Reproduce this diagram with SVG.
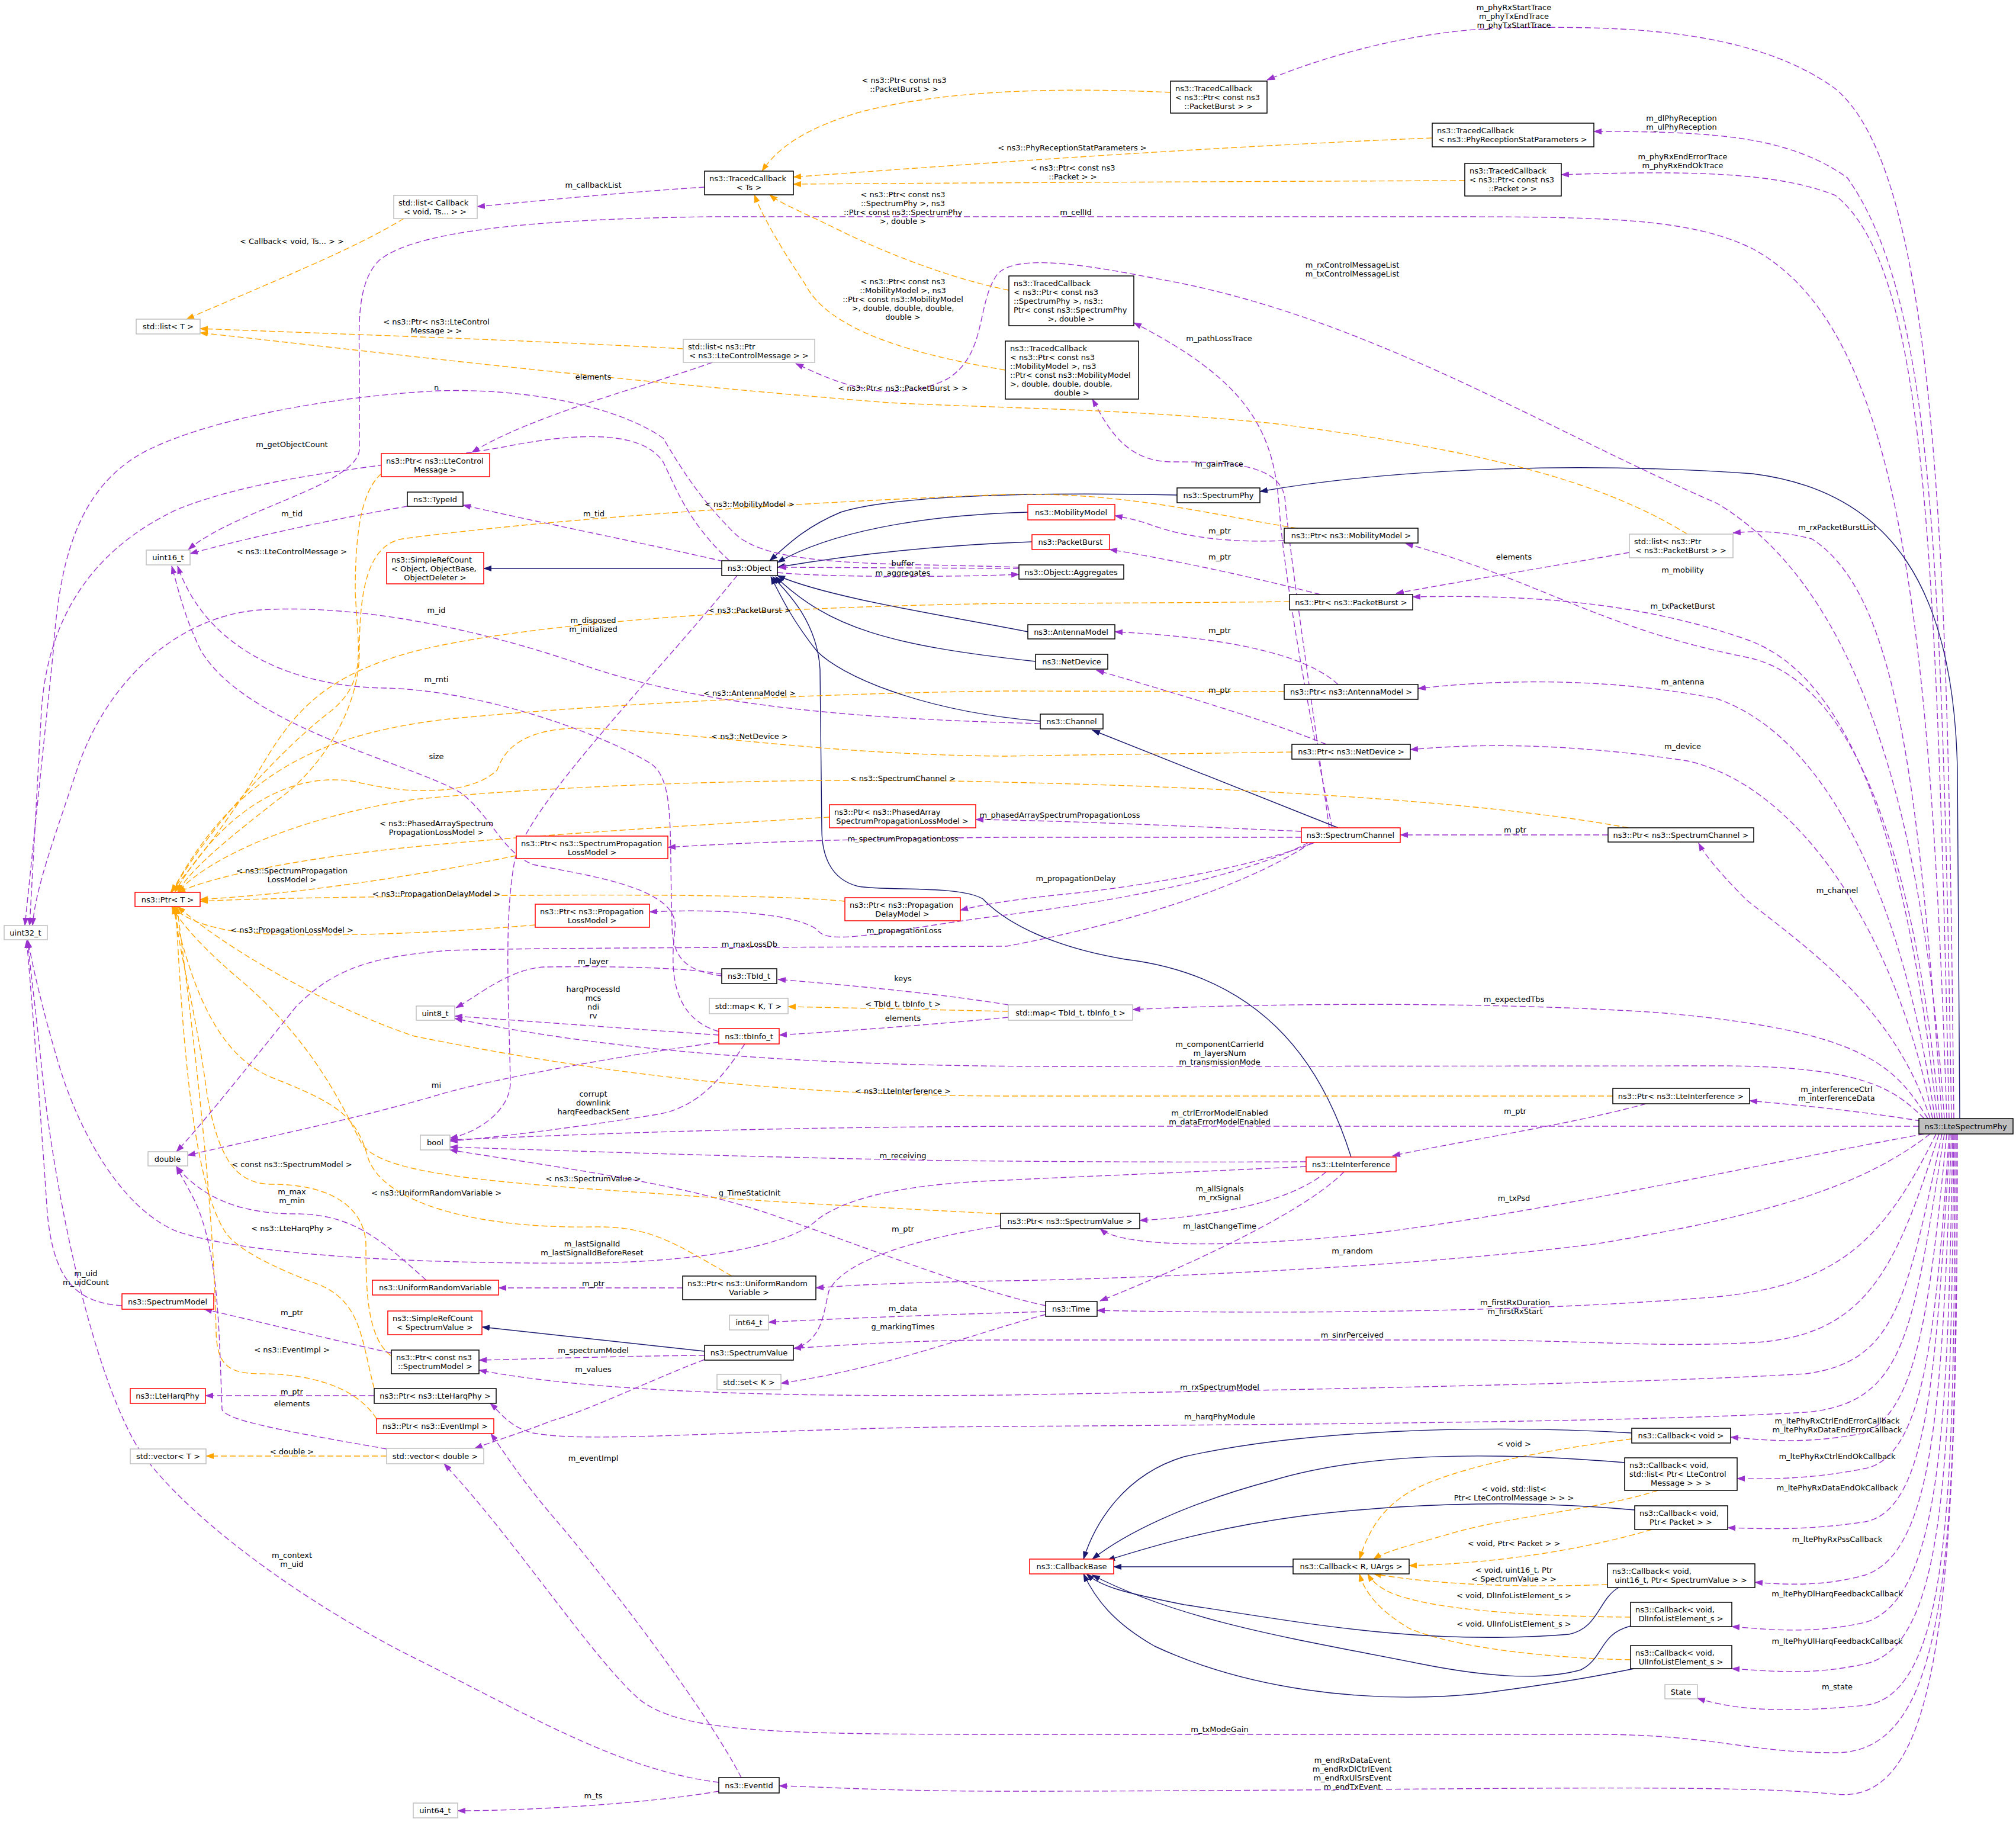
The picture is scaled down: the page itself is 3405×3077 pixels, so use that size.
<svg xmlns="http://www.w3.org/2000/svg" width="3405" height="3077" viewBox="0 0 3405 3077">
<style>
text{font-family:"DejaVu Sans","Liberation Sans",sans-serif;font-size:13px;fill:#000}
.l{text-anchor:middle}
.c{text-anchor:middle}
rect{fill:#fff;stroke:#000;stroke-width:1.5}
.r rect{stroke:#ff0000}
.g rect{stroke:#bfbfbf}
.e path{fill:none;stroke-width:1.4}
.p{stroke:#9a32cd;stroke-dasharray:10,5;marker-end:url(#ap)}
.o{stroke:#ffa500;stroke-dasharray:10,5;marker-end:url(#ao)}
.i{stroke:#191970;marker-end:url(#ai)}
</style>
<defs>
<marker id="ap" markerWidth="14" markerHeight="10" refX="13" refY="5" orient="auto" markerUnits="userSpaceOnUse"><path d="M0,0 L14,5 L0,10 z" fill="#9a32cd"/></marker>
<marker id="ao" markerWidth="14" markerHeight="10" refX="13" refY="5" orient="auto" markerUnits="userSpaceOnUse"><path d="M0,0 L14,5 L0,10 z" fill="#ffa500"/></marker>
<marker id="ai" markerWidth="14" markerHeight="10" refX="13" refY="5" orient="auto" markerUnits="userSpaceOnUse"><path d="M0,0 L14,5 L0,10 z" fill="#191970"/></marker>
</defs>
<rect x="0" y="0" width="3405" height="3077" style="fill:#fff;stroke:none"/>
<g id="edges" class="e">
<path class="p" d="M3300 1889 C3290 1000 3280 300 3100 150 C2950 40 2700 45 2548 47 C2400 50 2250 90 2140 135"/>
<path class="p" d="M3296 1889 C3280 900 3260 500 3120 300 C3020 230 2900 222 2692 222"/>
<path class="p" d="M3292 1889 C3270 900 3250 450 3100 330 C3000 290 2850 288 2637 295"/>
<path class="p" d="M3288 1889 C3260 1000 3200 550 2960 420 C2850 366 2700 366 2400 366 L1200 366 C900 370 700 390 640 440 C600 480 607 560 607 620 L607 760 C600 820 400 860 318 928"/>
<path class="p" d="M3284 1889 C3250 1400 3150 1000 2900 850 C2600 720 2300 530 1950 470 C1800 440 1700 430 1680 470 C1650 520 1665 600 1600 640 C1500 690 1400 640 1344 614"/>
<path class="i" d="M3310 1889 L3306 1300 C3300 1000 3200 830 2960 800 C2600 775 2300 800 2128 830"/>
<path class="p" d="M3280 1889 C3240 1300 3200 1000 3060 910 C3000 895 2960 897 2927 900"/>
<path class="p" d="M3276 1889 C3240 1500 3150 1150 2950 1110 C2700 1060 2600 980 2374 918"/>
<path class="p" d="M3272 1889 C3230 1500 3150 1150 2950 1080 C2750 1010 2550 1005 2386 1008"/>
<path class="p" d="M3268 1889 C3220 1550 3100 1250 2900 1180 C2700 1140 2500 1150 2395 1163"/>
<path class="p" d="M3264 1889 C3210 1600 3050 1330 2850 1285 C2650 1255 2500 1255 2382 1266"/>
<path class="p" d="M3260 1889 C3200 1700 3050 1600 2950 1520 C2910 1480 2880 1445 2869 1424"/>
<path class="p" d="M3256 1889 C3200 1800 3150 1740 2800 1710 C2500 1690 2100 1695 1913 1705"/>
<path class="p" d="M3250 1889 C3200 1840 3150 1800 2900 1800 L1800 1801 C1500 1801 1100 1790 768 1720"/>
<path class="p" d="M3244 1893 C3150 1878 3050 1867 2955 1859"/>
<path class="p" d="M3241 1902 L1800 1902 C1300 1902 1000 1915 760 1925"/>
<path class="p" d="M3250 1915 C3000 1960 2600 2050 2300 2085 C2100 2105 1900 2110 1858 2075"/>
<path class="p" d="M3260 1915 C3150 2000 3000 2050 2700 2100 C2400 2140 1900 2160 1700 2163 C1500 2166 1420 2172 1378 2175"/>
<path class="p" d="M3270 1915 C3180 2100 3100 2170 2900 2190 C2600 2215 2200 2220 1853 2213"/>
<path class="p" d="M3275 1915 C3200 2150 3150 2260 2950 2268 C2800 2275 2700 2265 2500 2263 L1700 2263 C1550 2263 1450 2270 1340 2277"/>
<path class="p" d="M3280 1915 C3220 2200 3200 2300 3050 2320 C2800 2335 2300 2345 1700 2356 C1300 2360 1000 2350 809 2314"/>
<path class="p" d="M3284 1915 C3230 2250 3220 2370 3050 2385 C2800 2400 2300 2405 1700 2409 C1300 2410 1000 2440 900 2420 C860 2410 845 2385 828 2370"/>
<path class="p" d="M3288 1915 C3260 2200 3240 2380 3150 2420 C3050 2440 2980 2432 2923 2427"/>
<path class="p" d="M3292 1915 C3270 2250 3250 2460 3150 2480 C3050 2500 2980 2497 2934 2497"/>
<path class="p" d="M3294 1915 C3270 2300 3260 2550 3150 2570 C3050 2585 2980 2582 2918 2580"/>
<path class="p" d="M3296 1915 C3280 2350 3270 2620 3150 2660 C3080 2680 3010 2676 2964 2672"/>
<path class="p" d="M3298 1915 C3290 2400 3280 2700 3150 2740 C3060 2760 2990 2752 2925 2747"/>
<path class="p" d="M3300 1915 C3295 2450 3290 2780 3150 2810 C3060 2830 2990 2822 2925 2818"/>
<path class="p" d="M3302 1915 C3300 2500 3300 2860 3150 2880 C3000 2895 2920 2885 2867 2868"/>
<path class="p" d="M3304 1915 C3304 2600 3300 2960 3100 2960 C2950 2960 2900 2930 2700 2929 L1700 2929 C1300 2929 1150 2925 1080 2870 C1000 2800 870 2600 750 2472"/>
<path class="p" d="M3306 1915 C3306 2700 3280 3050 3100 3030 C2900 3010 2400 3025 1700 3025 C1500 3025 1400 3018 1316 3016"/>
<path class="p" d="M2250 1398 C2230 1300 2170 1000 2160 850 C2150 720 2100 640 1915 545"/>
<path class="p" d="M2245 1398 C2225 1250 2180 950 2170 840 C2160 780 2060 780 1980 780 C1900 780 1870 720 1845 674"/>
<path class="i" d="M1988 836 C1700 830 1500 840 1420 865 C1360 890 1330 920 1300 947"/>
<path class="i" d="M1736 865 C1550 870 1400 900 1313 950"/>
<path class="i" d="M1743 915 C1600 920 1450 935 1313 958"/>
<path class="p" d="M1721 960 L1315 958"/>
<path class="p" d="M1313 967 C1400 975 1600 975 1721 970"/>
<path class="i" d="M1736 1067 C1600 1040 1400 1010 1313 972"/>
<path class="i" d="M1749 1117 C1500 1090 1400 1060 1310 974"/>
<path class="i" d="M1757 1218 C1550 1200 1420 1140 1380 1100 C1340 1050 1320 1010 1302 974"/>
<path class="i" d="M2282 1954 C2240 1820 2150 1650 1900 1620 C1780 1600 1700 1560 1660 1518 C1620 1495 1500 1505 1450 1497 C1400 1485 1388 1440 1388 1400 L1385 1130 C1380 1050 1330 1000 1305 974"/>
<path class="i" d="M1219 960 L817 960"/>
<path class="i" d="M2260 1398 L1845 1233"/>
<path class="p" d="M1222 948 C1100 920 900 880 782 853"/>
<path class="p" d="M688 855 C600 870 450 900 321 935"/>
<path class="p" d="M1232 947 C1160 880 1140 820 1120 780 C1080 720 950 735 850 755 C650 790 450 800 300 860 C150 930 80 1050 70 1200 L50 1563"/>
<path class="p" d="M1721 958 C1500 950 1300 960 1240 900 C1180 840 1150 790 1120 740 C1050 690 900 655 740 660 C550 670 350 710 250 760 C130 820 100 950 90 1100 L42 1563"/>
<path class="p" d="M1245 972 C1100 1150 900 1350 870 1450 C850 1550 860 1700 862 1830 C860 1880 800 1915 760 1922"/>
<path class="p" d="M1757 1222 C1500 1215 1200 1200 976 1120 C800 1060 600 1020 440 1030 C300 1040 180 1150 130 1300 C90 1420 60 1500 55 1563"/>
<path class="p" d="M1219 1648 C1160 1640 1135 1620 1135 1560 C1130 1400 1140 1320 1100 1290 C1000 1230 800 1165 650 1162 C500 1160 350 1100 300 956"/>
<path class="p" d="M1214 1742 C1140 1720 1130 1650 1140 1570 C1150 1500 1000 1480 900 1460 C850 1440 830 1380 780 1340 C700 1290 420 1230 340 1100 C310 1040 300 990 290 956"/>
<path class="p" d="M1214 1760 C1000 1790 800 1830 737 1850 C600 1890 450 1920 317 1951"/>
<path class="p" d="M1214 1748 C1100 1740 900 1725 768 1716"/>
<path class="p" d="M1219 1645 C1150 1632 1000 1632 920 1633 C860 1636 810 1680 770 1702"/>
<path class="p" d="M1258 1763 C1220 1820 1180 1870 1110 1882 C1000 1900 850 1920 760 1927"/>
<path class="p" d="M1703 1697 C1600 1680 1450 1665 1314 1654"/>
<path class="o" d="M1703 1708 L1331 1700"/>
<path class="p" d="M1703 1718 C1600 1728 1450 1740 1316 1748"/>
<path class="o" d="M2724 1851 L1700 1851 C1300 1850 1000 1810 700 1750 C550 1700 380 1600 300 1531"/>
<path class="p" d="M2780 1864 C2650 1900 2450 1930 2352 1952"/>
<path class="p" d="M2206 1962 C2000 1963 1800 1962 1600 1960 C1300 1955 1000 1945 760 1937"/>
<path class="p" d="M2206 1970 C2000 1980 1800 1988 1700 1993 C1500 2000 1420 2030 1380 2060 C1340 2100 1200 2130 1000 2133 C700 2135 420 2120 300 2080 C200 2040 130 1900 100 1800 C70 1700 55 1630 47 1588"/>
<path class="p" d="M2240 1979 C2180 2030 2050 2055 1925 2061"/>
<path class="p" d="M2270 1979 C2200 2050 2000 2140 1858 2197"/>
<path class="p" d="M1214 3025 C1100 3045 900 3058 773 3058"/>
<path class="p" d="M1214 3010 C1050 2990 900 2900 700 2800 C500 2700 300 2550 230 2440 C150 2300 90 2000 70 1800 C60 1700 50 1630 47 1588"/>
<path class="p" d="M1252 3002 C1200 2900 1050 2700 950 2580 C880 2500 850 2450 829 2421"/>
<path class="p" d="M206 2205 C120 2200 90 2150 80 2050 C70 1900 55 1700 45 1588"/>
<path class="p" d="M661 2285 C550 2260 450 2235 345 2211"/>
<path class="p" d="M1190 2289 C1050 2290 900 2295 809 2297"/>
<path class="p" d="M1190 2296 C1100 2330 1000 2380 930 2400 C880 2420 830 2435 802 2446"/>
<path class="i" d="M1190 2282 L814 2241"/>
<path class="p" d="M1690 2070 C1500 2100 1420 2140 1400 2180 C1390 2220 1390 2260 1344 2277"/>
<path class="p" d="M1766 2215 C1600 2220 1450 2225 1298 2233"/>
<path class="p" d="M1766 2220 C1650 2250 1500 2310 1319 2336"/>
<path class="p" d="M1766 2205 C1650 2180 1500 2120 1300 2050 C1150 2000 1000 1980 760 1942"/>
<path class="o" d="M1690 2050 C1500 2040 1300 2030 1100 2015 C800 1995 640 1980 610 1930 C570 1850 520 1750 400 1650 C330 1590 300 1550 290 1531"/>
<path class="p" d="M1153 2175 L842 2175"/>
<path class="p" d="M720 2162 C650 2100 600 2050 500 2050 C400 2050 340 2020 298 1970"/>
<path class="o" d="M1236 2155 C1140 2100 1100 2070 1000 2072 C800 2075 640 2030 620 1950 C600 1880 560 1860 460 1820 C360 1780 320 1650 292 1531"/>
<path class="o" d="M661 2290 C620 2260 618 2180 618 2100 C615 2040 560 2000 460 2000 C400 2000 370 1960 350 1850 C330 1700 300 1600 295 1531"/>
<path class="p" d="M632 2357 L347 2357"/>
<path class="p" d="M653 2447 C500 2420 380 2400 375 2380 C370 2250 370 2120 330 2030 C315 2000 305 1985 298 1970"/>
<path class="o" d="M632 2345 C610 2260 610 2200 540 2170 C460 2140 400 2110 380 2080 C330 2000 310 1800 297 1531"/>
<path class="o" d="M636 2396 C600 2340 520 2320 440 2320 C380 2320 367 2300 365 2250 C360 2000 320 1700 299 1531"/>
<path class="o" d="M653 2459 L348 2459"/>
<path class="o" d="M904 1562 C700 1580 450 1585 380 1570 C330 1560 305 1545 290 1531"/>
<path class="p" d="M2210 1423 C2100 1480 1900 1520 1700 1545 C1500 1570 1400 1600 1380 1570 C1340 1540 1200 1535 1097 1540"/>
<path class="p" d="M2215 1423 C2100 1500 1900 1560 1700 1598 C1400 1600 900 1600 760 1605 C620 1615 560 1640 500 1700 C420 1800 340 1900 298 1945"/>
<path class="p" d="M2220 1423 C2100 1470 1900 1500 1800 1510 C1700 1520 1650 1530 1622 1537"/>
<path class="p" d="M2198 1414 L1700 1414 C1500 1416 1300 1420 1128 1431"/>
<path class="p" d="M2198 1404 C2000 1395 1800 1386 1648 1384"/>
<path class="p" d="M2716 1410 L2365 1410"/>
<path class="o" d="M2750 1398 C2600 1370 2300 1335 1700 1321 C1300 1310 900 1330 700 1350 C500 1380 350 1450 300 1507"/>
<path class="o" d="M1401 1380 C1200 1392 900 1410 700 1430 C500 1450 360 1480 300 1507"/>
<path class="o" d="M872 1445 C700 1480 500 1510 338 1519"/>
<path class="o" d="M1427 1522 C1300 1510 1000 1510 700 1514 C500 1516 400 1519 338 1522"/>
<path class="p" d="M2240 1257 C2150 1220 2000 1175 1852 1132"/>
<path class="o" d="M2182 1270 C2000 1273 1800 1275 1700 1277 C1400 1275 1200 1240 1000 1230 C880 1225 850 1270 840 1300 C800 1340 700 1345 600 1320 C480 1300 370 1380 295 1507"/>
<path class="p" d="M2260 1156 C2200 1100 2050 1075 1883 1067"/>
<path class="o" d="M2169 1168 L1700 1167 C1400 1170 1000 1190 750 1215 C550 1240 400 1300 290 1507"/>
<path class="p" d="M2230 1004 C2100 970 1950 940 1874 928"/>
<path class="o" d="M2178 1016 C2000 1018 1800 1019 1700 1019 C1300 1025 900 1050 700 1100 C550 1140 500 1200 450 1280 C380 1400 310 1480 288 1507"/>
<path class="p" d="M2752 933 C2600 960 2450 985 2358 1002"/>
<path class="o" d="M2850 902 C2700 810 2500 760 2150 715 C1900 690 1700 690 1500 680 C1000 640 600 590 338 562"/>
<path class="p" d="M2169 913 C2050 918 1980 900 1940 885 C1920 878 1900 874 1883 871"/>
<path class="o" d="M2190 892 C2050 870 1900 830 1700 835 C1300 850 900 880 680 910 C620 920 607 1000 607 1100 C607 1200 540 1300 470 1350 C380 1420 320 1470 300 1507"/>
<path class="o" d="M644 800 C610 830 600 900 600 1000 C605 1100 620 1150 560 1200 C480 1260 350 1400 290 1507"/>
<path class="p" d="M1203 612 C1100 650 900 700 797 764"/>
<path class="o" d="M1154 589 C900 575 600 565 338 555"/>
<path class="o" d="M682 369 C600 420 450 480 315 539"/>
<path class="p" d="M1190 316 C1050 325 900 340 806 349"/>
<path class="o" d="M1977 156 C1800 148 1600 150 1450 190 C1350 220 1310 255 1287 289"/>
<path class="o" d="M2419 233 C2000 250 1600 280 1340 299"/>
<path class="o" d="M2474 305 C2000 307 1600 309 1340 311"/>
<path class="o" d="M1704 490 C1600 470 1480 420 1420 390 C1360 360 1320 345 1300 329"/>
<path class="o" d="M1698 625 C1550 600 1400 560 1360 480 C1320 420 1290 370 1274 329"/>
<path class="o" d="M2756 2430 C2600 2450 2450 2480 2380 2520 C2330 2550 2310 2590 2296 2633"/>
<path class="o" d="M2800 2517 C2700 2550 2550 2560 2450 2590 C2380 2610 2340 2620 2320 2633"/>
<path class="o" d="M2790 2583 C2700 2610 2550 2640 2380 2644"/>
<path class="o" d="M2715 2676 C2550 2682 2420 2675 2320 2658"/>
<path class="o" d="M2754 2731 C2600 2730 2450 2720 2380 2700 C2340 2690 2320 2675 2310 2658"/>
<path class="o" d="M2754 2803 C2600 2800 2450 2780 2380 2750 C2330 2720 2305 2690 2296 2658"/>
<path class="i" d="M2756 2420 C2500 2405 2200 2415 2000 2460 C1900 2490 1850 2570 1830 2633"/>
<path class="i" d="M2744 2470 C2500 2450 2300 2455 2150 2500 C2000 2540 1900 2590 1845 2633"/>
<path class="i" d="M2761 2550 C2600 2535 2400 2535 2200 2560 C2050 2580 1950 2610 1870 2635"/>
<path class="i" d="M2184 2646 L1881 2646"/>
<path class="i" d="M2734 2681 C2700 2700 2700 2750 2650 2760 C2400 2780 2200 2740 2000 2710 C1900 2690 1860 2680 1835 2658"/>
<path class="i" d="M2754 2746 C2700 2760 2710 2800 2670 2820 C2600 2840 2500 2830 2400 2810 C2200 2770 2000 2740 1845 2660"/>
<path class="i" d="M2760 2818 C2700 2830 2650 2840 2500 2860 C2300 2880 2100 2850 1950 2780 C1880 2740 1850 2700 1830 2658"/>
</g>
<g id="labels" class="l">
<text x="2557" y="17"><tspan x="2557">m_phyRxStartTrace</tspan><tspan x="2557" dy="15">m_phyTxEndTrace</tspan><tspan x="2557" dy="15">m_phyTxStartTrace</tspan></text>
<text x="2840" y="204"><tspan x="2840">m_dlPhyReception</tspan><tspan x="2840" dy="15">m_ulPhyReception</tspan></text>
<text x="2842" y="269"><tspan x="2842">m_phyRxEndErrorTrace</tspan><tspan x="2842" dy="15">m_phyRxEndOkTrace</tspan></text>
<text x="1817" y="363">m_cellId</text>
<text x="2284" y="452"><tspan x="2284">m_rxControlMessageList</tspan><tspan x="2284" dy="15">m_txControlMessageList</tspan></text>
<text x="2059" y="576">m_pathLossTrace</text>
<text x="2059" y="788">m_gainTrace</text>
<text x="3103" y="895">m_rxPacketBurstList</text>
<text x="2842" y="967">m_mobility</text>
<text x="2842" y="1028">m_txPacketBurst</text>
<text x="2842" y="1156">m_antenna</text>
<text x="2842" y="1265">m_device</text>
<text x="3103" y="1508">m_channel</text>
<text x="2557" y="1692">m_expectedTbs</text>
<text x="2060" y="1768"><tspan x="2060">m_componentCarrierId</tspan><tspan x="2060" dy="15">m_layersNum</tspan><tspan x="2060" dy="15">m_transmissionMode</tspan></text>
<text x="3102" y="1844"><tspan x="3102">m_interferenceCtrl</tspan><tspan x="3102" dy="15">m_interferenceData</tspan></text>
<text x="2060" y="1884"><tspan x="2060">m_ctrlErrorModelEnabled</tspan><tspan x="2060" dy="15">m_dataErrorModelEnabled</tspan></text>
<text x="2559" y="1881">m_ptr</text>
<text x="2557" y="2028">m_txPsd</text>
<text x="2284" y="2117">m_random</text>
<text x="2559" y="2204"><tspan x="2559">m_firstRxDuration</tspan><tspan x="2559" dy="15">m_firstRxStart</tspan></text>
<text x="2284" y="2259">m_sinrPerceived</text>
<text x="2060" y="2347">m_rxSpectrumModel</text>
<text x="2060" y="2397">m_harqPhyModule</text>
<text x="3103" y="2404"><tspan x="3103">m_ltePhyRxCtrlEndErrorCallback</tspan><tspan x="3103" dy="15">m_ltePhyRxDataEndErrorCallback</tspan></text>
<text x="3103" y="2464">m_ltePhyRxCtrlEndOkCallback</text>
<text x="3103" y="2517">m_ltePhyRxDataEndOkCallback</text>
<text x="3103" y="2604">m_ltePhyRxPssCallback</text>
<text x="3103" y="2696">m_ltePhyDlHarqFeedbackCallback</text>
<text x="3103" y="2776">m_ltePhyUlHarqFeedbackCallback</text>
<text x="3103" y="2853">m_state</text>
<text x="2060" y="2925">m_txModeGain</text>
<text x="2284" y="2977"><tspan x="2284">m_endRxDataEvent</tspan><tspan x="2284" dy="15">m_endRxDlCtrlEvent</tspan><tspan x="2284" dy="15">m_endRxUlSrsEvent</tspan><tspan x="2284" dy="15">m_endTxEvent</tspan></text>
<text x="2060" y="2012"><tspan x="2060">m_allSignals</tspan><tspan x="2060" dy="15">m_rxSignal</tspan></text>
<text x="2060" y="2075">m_lastChangeTime</text>
<text x="1525" y="1956">m_receiving</text>
<text x="1000" y="2105"><tspan x="1000">m_lastSignalId</tspan><tspan x="1000" dy="15">m_lastSignalIdBeforeReset</tspan></text>
<text x="1525" y="1847">&lt; ns3::LteInterference &gt;</text>
<text x="1525" y="1657">keys</text>
<text x="1525" y="1700">&lt; TbId_t, tbInfo_t &gt;</text>
<text x="1525" y="1724">elements</text>
<text x="1002" y="1628">m_layer</text>
<text x="1002" y="1675"><tspan x="1002">harqProcessId</tspan><tspan x="1002" dy="15">mcs</tspan><tspan x="1002" dy="15">ndi</tspan><tspan x="1002" dy="15">rv</tspan></text>
<text x="737" y="1837">mi</text>
<text x="1002" y="1852"><tspan x="1002">corrupt</tspan><tspan x="1002" dy="15">downlink</tspan><tspan x="1002" dy="15">harqFeedbackSent</tspan></text>
<text x="1266" y="1599">m_maxLossDb</text>
<text x="1527" y="1576">m_propagationLoss</text>
<text x="1817" y="1488">m_propagationDelay</text>
<text x="1525" y="1421">m_spectrumPropagationLoss</text>
<text x="1790" y="1381">m_phasedArraySpectrumPropagationLoss</text>
<text x="2559" y="1406">m_ptr</text>
<text x="1525" y="1319">&lt; ns3::SpectrumChannel &gt;</text>
<text x="737" y="1395"><tspan x="737">&lt; ns3::PhasedArraySpectrum</tspan><tspan x="737" dy="15">PropagationLossModel &gt;</tspan></text>
<text x="493" y="1475"><tspan x="493">&lt; ns3::SpectrumPropagation</tspan><tspan x="493" dy="15">LossModel &gt;</tspan></text>
<text x="737" y="1514">&lt; ns3::PropagationDelayModel &gt;</text>
<text x="493" y="1575">&lt; ns3::PropagationLossModel &gt;</text>
<text x="2060" y="1170">m_ptr</text>
<text x="1266" y="1248">&lt; ns3::NetDevice &gt;</text>
<text x="2060" y="1069">m_ptr</text>
<text x="1266" y="1175">&lt; ns3::AntennaModel &gt;</text>
<text x="2060" y="945">m_ptr</text>
<text x="1266" y="1035">&lt; ns3::PacketBurst &gt;</text>
<text x="2557" y="945">elements</text>
<text x="1525" y="660">&lt; ns3::Ptr&lt; ns3::PacketBurst &gt; &gt;</text>
<text x="2060" y="901">m_ptr</text>
<text x="1266" y="856">&lt; ns3::MobilityModel &gt;</text>
<text x="493" y="936">&lt; ns3::LteControlMessage &gt;</text>
<text x="1002" y="641">elements</text>
<text x="737" y="548"><tspan x="737">&lt; ns3::Ptr&lt; ns3::LteControl</tspan><tspan x="737" dy="15">Message &gt; &gt;</tspan></text>
<text x="493" y="412">&lt; Callback&lt; void, Ts... &gt; &gt;</text>
<text x="1002" y="317">m_callbackList</text>
<text x="1527" y="140"><tspan x="1527">&lt; ns3::Ptr&lt; const ns3</tspan><tspan x="1527" dy="15">::PacketBurst &gt; &gt;</tspan></text>
<text x="1811" y="254">&lt; ns3::PhyReceptionStatParameters &gt;</text>
<text x="1812" y="288"><tspan x="1812">&lt; ns3::Ptr&lt; const ns3</tspan><tspan x="1812" dy="15">::Packet &gt; &gt;</tspan></text>
<text x="1525" y="333"><tspan x="1525">&lt; ns3::Ptr&lt; const ns3</tspan><tspan x="1525" dy="15">::SpectrumPhy &gt;, ns3</tspan><tspan x="1525" dy="15">::Ptr&lt; const ns3::SpectrumPhy</tspan><tspan x="1525" dy="15">&gt;, double &gt;</tspan></text>
<text x="1525" y="480"><tspan x="1525">&lt; ns3::Ptr&lt; const ns3</tspan><tspan x="1525" dy="15">::MobilityModel &gt;, ns3</tspan><tspan x="1525" dy="15">::Ptr&lt; const ns3::MobilityModel</tspan><tspan x="1525" dy="15">&gt;, double, double, double,</tspan><tspan x="1525" dy="15">double &gt;</tspan></text>
<text x="1003" y="872">m_tid</text>
<text x="493" y="872">m_tid</text>
<text x="493" y="755">m_getObjectCount</text>
<text x="737" y="659">n</text>
<text x="1525" y="956">buffer</text>
<text x="1525" y="972">m_aggregates</text>
<text x="1002" y="1052"><tspan x="1002">m_disposed</tspan><tspan x="1002" dy="15">m_initialized</tspan></text>
<text x="737" y="1035">m_id</text>
<text x="737" y="1152">m_rnti</text>
<text x="737" y="1282">size</text>
<text x="1002" y="3037">m_ts</text>
<text x="493" y="2631"><tspan x="493">m_context</tspan><tspan x="493" dy="15">m_uid</tspan></text>
<text x="1002" y="2467">m_eventImpl</text>
<text x="145" y="2155"><tspan x="145">m_uid</tspan><tspan x="145" dy="15">m_uidCount</tspan></text>
<text x="493" y="2221">m_ptr</text>
<text x="1002" y="2285">m_spectrumModel</text>
<text x="1002" y="2317">m_values</text>
<text x="1525" y="2080">m_ptr</text>
<text x="1525" y="2214">m_data</text>
<text x="1525" y="2245">g_markingTimes</text>
<text x="1266" y="2019">g_TimeStaticInit</text>
<text x="1002" y="1995">&lt; ns3::SpectrumValue &gt;</text>
<text x="1002" y="2172">m_ptr</text>
<text x="493" y="2017"><tspan x="493">m_max</tspan><tspan x="493" dy="15">m_min</tspan></text>
<text x="737" y="2019">&lt; ns3::UniformRandomVariable &gt;</text>
<text x="493" y="1971">&lt; const ns3::SpectrumModel &gt;</text>
<text x="493" y="2355">m_ptr</text>
<text x="493" y="2375">elements</text>
<text x="493" y="2079">&lt; ns3::LteHarqPhy &gt;</text>
<text x="493" y="2284">&lt; ns3::EventImpl &gt;</text>
<text x="493" y="2456">&lt; double &gt;</text>
<text x="2557" y="2443">&lt; void &gt;</text>
<text x="2557" y="2519"><tspan x="2557">&lt; void, std::list&lt;</tspan><tspan x="2557" dy="15">Ptr&lt; LteControlMessage &gt; &gt; &gt;</tspan></text>
<text x="2557" y="2611">&lt; void, Ptr&lt; Packet &gt; &gt;</text>
<text x="2557" y="2656"><tspan x="2557">&lt; void, uint16_t, Ptr</tspan><tspan x="2557" dy="15">&lt; SpectrumValue &gt; &gt;</tspan></text>
<text x="2557" y="2699">&lt; void, DlInfoListElement_s &gt;</text>
<text x="2557" y="2747">&lt; void, UlInfoListElement_s &gt;</text>
</g>
<g id="n_lsp"><rect x="3241" y="1889" width="159" height="26" style="fill:#bfbfbf"/><text class="c" x="3320" y="1907">ns3::LteSpectrumPhy</text></g>
<g id="n_tc_ts"><rect x="1190" y="289" width="150" height="40"/><text x="1198" y="306">ns3::TracedCallback</text><text class="c" x="1265" y="321">&lt; Ts &gt;</text></g>
<g id="n_list_cb" class="g"><rect x="665" y="330" width="141" height="39"/><text x="673" y="347">std::list&lt; Callback</text><text class="c" x="735" y="362">&lt; void, Ts... &gt; &gt;</text></g>
<g id="n_list_t" class="g"><rect x="230" y="539" width="108" height="25"/><text class="c" x="284" y="556">std::list&lt; T &gt;</text></g>
<g id="n_list_lcm" class="g"><rect x="1154" y="573" width="222" height="39"/><text x="1162" y="590">std::list&lt; ns3::Ptr</text><text class="c" x="1265" y="605">&lt; ns3::LteControlMessage &gt; &gt;</text></g>
<g id="n_ptr_lcm" class="r"><rect x="644" y="766" width="183" height="39"/><text x="652" y="783">ns3::Ptr&lt; ns3::LteControl</text><text class="c" x="735" y="798">Message &gt;</text></g>
<g id="n_typeid"><rect x="688" y="831" width="94" height="24"/><text class="c" x="735" y="848">ns3::TypeId</text></g>
<g id="n_uint16" class="g"><rect x="247" y="929" width="74" height="25"/><text class="c" x="284" y="946">uint16_t</text></g>
<g id="n_src_obj" class="r"><rect x="653" y="933" width="164" height="53"/><text x="661" y="950">ns3::SimpleRefCount</text><text x="661" y="965">&lt; Object, ObjectBase,</text><text class="c" x="735" y="980">ObjectDeleter &gt;</text></g>
<g id="n_object"><rect x="1219" y="947" width="94" height="25"/><text class="c" x="1266" y="964">ns3::Object</text></g>
<g id="n_ptr_t" class="r"><rect x="228" y="1507" width="110" height="24"/><text class="c" x="283" y="1524">ns3::Ptr&lt; T &gt;</text></g>
<g id="n_ptr_pa" class="r"><rect x="1401" y="1359" width="247" height="39"/><text x="1409" y="1376">ns3::Ptr&lt; ns3::PhasedArray</text><text class="c" x="1524" y="1391">SpectrumPropagationLossModel &gt;</text></g>
<g id="n_ptr_splm" class="r"><rect x="872" y="1412" width="256" height="38"/><text x="880" y="1429">ns3::Ptr&lt; ns3::SpectrumPropagation</text><text class="c" x="1000" y="1444">LossModel &gt;</text></g>
<g id="n_ptr_pdm" class="r"><rect x="1427" y="1516" width="195" height="39"/><text x="1435" y="1533">ns3::Ptr&lt; ns3::Propagation</text><text class="c" x="1524" y="1548">DelayModel &gt;</text></g>
<g id="n_ptr_plm" class="r"><rect x="904" y="1527" width="193" height="39"/><text x="912" y="1544">ns3::Ptr&lt; ns3::Propagation</text><text class="c" x="1000" y="1559">LossModel &gt;</text></g>
<g id="n_tc_pb"><rect x="1977" y="137" width="163" height="54"/><text x="1985" y="154">ns3::TracedCallback</text><text x="1985" y="169">&lt; ns3::Ptr&lt; const ns3</text><text class="c" x="2058" y="184">::PacketBurst &gt; &gt;</text></g>
<g id="n_tc_prs"><rect x="2419" y="208" width="273" height="40"/><text x="2427" y="225">ns3::TracedCallback</text><text class="c" x="2555" y="240">&lt; ns3::PhyReceptionStatParameters &gt;</text></g>
<g id="n_tc_pkt"><rect x="2474" y="276" width="163" height="55"/><text x="2482" y="293">ns3::TracedCallback</text><text x="2482" y="308">&lt; ns3::Ptr&lt; const ns3</text><text class="c" x="2555" y="323">::Packet &gt; &gt;</text></g>
<g id="n_tc_sp"><rect x="1704" y="466" width="211" height="84"/><text x="1712" y="483">ns3::TracedCallback</text><text x="1712" y="498">&lt; ns3::Ptr&lt; const ns3</text><text x="1712" y="513">::SpectrumPhy &gt;, ns3::</text><text x="1712" y="528">Ptr&lt; const ns3::SpectrumPhy</text><text class="c" x="1809" y="543">&gt;, double &gt;</text></g>
<g id="n_tc_mm"><rect x="1698" y="576" width="225" height="98"/><text x="1706" y="593">ns3::TracedCallback</text><text x="1706" y="608">&lt; ns3::Ptr&lt; const ns3</text><text x="1706" y="623">::MobilityModel &gt;, ns3</text><text x="1706" y="638">::Ptr&lt; const ns3::MobilityModel</text><text x="1706" y="653"> &gt;, double, double, double,</text><text class="c" x="1810" y="668">double &gt;</text></g>
<g id="n_spectrumphy"><rect x="1988" y="824" width="140" height="25"/><text class="c" x="2058" y="841">ns3::SpectrumPhy</text></g>
<g id="n_mobility" class="r"><rect x="1736" y="852" width="147" height="26"/><text class="c" x="1809" y="870">ns3::MobilityModel</text></g>
<g id="n_packetburst" class="r"><rect x="1743" y="903" width="131" height="25"/><text class="c" x="1808" y="920">ns3::PacketBurst</text></g>
<g id="n_aggregates"><rect x="1721" y="954" width="177" height="24"/><text class="c" x="1809" y="971">ns3::Object::Aggregates</text></g>
<g id="n_antenna"><rect x="1736" y="1055" width="147" height="24"/><text class="c" x="1809" y="1072">ns3::AntennaModel</text></g>
<g id="n_netdevice"><rect x="1749" y="1105" width="122" height="25"/><text class="c" x="1810" y="1122">ns3::NetDevice</text></g>
<g id="n_channel"><rect x="1757" y="1206" width="106" height="25"/><text class="c" x="1810" y="1223">ns3::Channel</text></g>
<g id="n_ptr_mm"><rect x="2169" y="892" width="226" height="25"/><text class="c" x="2282" y="909">ns3::Ptr&lt; ns3::MobilityModel &gt;</text></g>
<g id="n_list_pb" class="g"><rect x="2752" y="902" width="175" height="40"/><text x="2760" y="919">std::list&lt; ns3::Ptr</text><text class="c" x="2839" y="934">&lt; ns3::PacketBurst &gt; &gt;</text></g>
<g id="n_ptr_pb"><rect x="2178" y="1004" width="208" height="26"/><text class="c" x="2282" y="1022">ns3::Ptr&lt; ns3::PacketBurst &gt;</text></g>
<g id="n_ptr_am"><rect x="2169" y="1156" width="226" height="25"/><text class="c" x="2282" y="1173">ns3::Ptr&lt; ns3::AntennaModel &gt;</text></g>
<g id="n_ptr_nd"><rect x="2182" y="1257" width="200" height="25"/><text class="c" x="2282" y="1274">ns3::Ptr&lt; ns3::NetDevice &gt;</text></g>
<g id="n_sc" class="r"><rect x="2198" y="1398" width="167" height="25"/><text class="c" x="2281" y="1415">ns3::SpectrumChannel</text></g>
<g id="n_ptr_sc"><rect x="2716" y="1398" width="246" height="24"/><text class="c" x="2839" y="1415">ns3::Ptr&lt; ns3::SpectrumChannel &gt;</text></g>
<g id="n_map_tb" class="g"><rect x="1703" y="1697" width="210" height="26"/><text class="c" x="1808" y="1715">std::map&lt; TbId_t, tbInfo_t &gt;</text></g>
<g id="n_ptr_li"><rect x="2724" y="1838" width="231" height="26"/><text class="c" x="2839" y="1856">ns3::Ptr&lt; ns3::LteInterference &gt;</text></g>
<g id="n_li" class="r"><rect x="2206" y="1954" width="152" height="25"/><text class="c" x="2282" y="1971">ns3::LteInterference</text></g>
<g id="n_ptr_sv"><rect x="1690" y="2049" width="235" height="26"/><text class="c" x="1807" y="2067">ns3::Ptr&lt; ns3::SpectrumValue &gt;</text></g>
<g id="n_time"><rect x="1766" y="2198" width="87" height="25"/><text class="c" x="1809" y="2215">ns3::Time</text></g>
<g id="n_cb_void"><rect x="2756" y="2412" width="167" height="25"/><text class="c" x="2839" y="2429">ns3::Callback&lt; void &gt;</text></g>
<g id="n_cb_list"><rect x="2744" y="2462" width="190" height="55"/><text x="2752" y="2479">ns3::Callback&lt; void,</text><text x="2752" y="2494"> std::list&lt; Ptr&lt; LteControl</text><text class="c" x="2839" y="2509">Message &gt; &gt; &gt;</text></g>
<g id="n_cb_pkt"><rect x="2761" y="2543" width="157" height="40"/><text x="2769" y="2560">ns3::Callback&lt; void,</text><text class="c" x="2839" y="2575">Ptr&lt; Packet &gt; &gt;</text></g>
<g id="n_cbbase" class="r"><rect x="1739" y="2633" width="142" height="25"/><text class="c" x="1810" y="2650">ns3::CallbackBase</text></g>
<g id="n_cb_r"><rect x="2184" y="2633" width="196" height="25"/><text class="c" x="2282" y="2650">ns3::Callback&lt; R, UArgs &gt;</text></g>
<g id="n_cb_u16"><rect x="2715" y="2641" width="249" height="40"/><text x="2723" y="2658">ns3::Callback&lt; void,</text><text class="c" x="2839" y="2673"> uint16_t, Ptr&lt; SpectrumValue &gt; &gt;</text></g>
<g id="n_cb_dl"><rect x="2754" y="2706" width="171" height="41"/><text x="2762" y="2723">ns3::Callback&lt; void,</text><text class="c" x="2839" y="2738">DlInfoListElement_s &gt;</text></g>
<g id="n_cb_ul"><rect x="2754" y="2779" width="171" height="39"/><text x="2762" y="2796">ns3::Callback&lt; void,</text><text class="c" x="2839" y="2811">UlInfoListElement_s &gt;</text></g>
<g id="n_state" class="g"><rect x="2812" y="2845" width="55" height="24"/><text class="c" x="2839" y="2862">State</text></g>
<g id="n_uint32" class="g"><rect x="7" y="1563" width="73" height="24"/><text class="c" x="43" y="1580">uint32_t</text></g>
<g id="n_tbid"><rect x="1219" y="1636" width="93" height="25"/><text class="c" x="1265" y="1653">ns3::TbId_t</text></g>
<g id="n_map_kt" class="g"><rect x="1198" y="1686" width="133" height="26"/><text class="c" x="1264" y="1704">std::map&lt; K, T &gt;</text></g>
<g id="n_uint8" class="g"><rect x="703" y="1699" width="65" height="24"/><text class="c" x="735" y="1716">uint8_t</text></g>
<g id="n_tbinfo" class="r"><rect x="1214" y="1737" width="102" height="26"/><text class="c" x="1265" y="1755">ns3::tbInfo_t</text></g>
<g id="n_bool" class="g"><rect x="710" y="1917" width="50" height="25"/><text class="c" x="735" y="1934">bool</text></g>
<g id="n_double" class="g"><rect x="250" y="1945" width="67" height="24"/><text class="c" x="283" y="1962">double</text></g>
<g id="n_ptr_urv"><rect x="1153" y="2155" width="225" height="40"/><text x="1161" y="2172">ns3::Ptr&lt; ns3::UniformRandom</text><text class="c" x="1265" y="2187">Variable &gt;</text></g>
<g id="n_urv" class="r"><rect x="629" y="2162" width="213" height="25"/><text class="c" x="735" y="2179">ns3::UniformRandomVariable</text></g>
<g id="n_spectrummodel" class="r"><rect x="206" y="2185" width="155" height="26"/><text class="c" x="283" y="2203">ns3::SpectrumModel</text></g>
<g id="n_src_sv" class="r"><rect x="655" y="2214" width="159" height="40"/><text x="663" y="2231">ns3::SimpleRefCount</text><text class="c" x="734" y="2246">&lt; SpectrumValue &gt;</text></g>
<g id="n_int64" class="g"><rect x="1232" y="2221" width="66" height="25"/><text class="c" x="1265" y="2238">int64_t</text></g>
<g id="n_sv"><rect x="1190" y="2272" width="150" height="25"/><text class="c" x="1265" y="2289">ns3::SpectrumValue</text></g>
<g id="n_ptr_csm"><rect x="661" y="2280" width="148" height="40"/><text x="669" y="2297">ns3::Ptr&lt; const ns3</text><text class="c" x="735" y="2312">::SpectrumModel &gt;</text></g>
<g id="n_set_k" class="g"><rect x="1211" y="2321" width="108" height="26"/><text class="c" x="1265" y="2339">std::set&lt; K &gt;</text></g>
<g id="n_lhp" class="r"><rect x="220" y="2345" width="127" height="25"/><text class="c" x="283" y="2362">ns3::LteHarqPhy</text></g>
<g id="n_ptr_lhp"><rect x="632" y="2345" width="206" height="25"/><text class="c" x="735" y="2362">ns3::Ptr&lt; ns3::LteHarqPhy &gt;</text></g>
<g id="n_ptr_ei" class="r"><rect x="636" y="2396" width="198" height="25"/><text class="c" x="735" y="2413">ns3::Ptr&lt; ns3::EventImpl &gt;</text></g>
<g id="n_vec_t" class="g"><rect x="220" y="2447" width="128" height="25"/><text class="c" x="284" y="2464">std::vector&lt; T &gt;</text></g>
<g id="n_vec_d" class="g"><rect x="653" y="2446" width="164" height="26"/><text class="c" x="735" y="2464">std::vector&lt; double &gt;</text></g>
<g id="n_eventid"><rect x="1214" y="3002" width="102" height="26"/><text class="c" x="1265" y="3020">ns3::EventId</text></g>
<g id="n_uint64" class="g"><rect x="698" y="3045" width="75" height="25"/><text class="c" x="735" y="3062">uint64_t</text></g>
</svg>
